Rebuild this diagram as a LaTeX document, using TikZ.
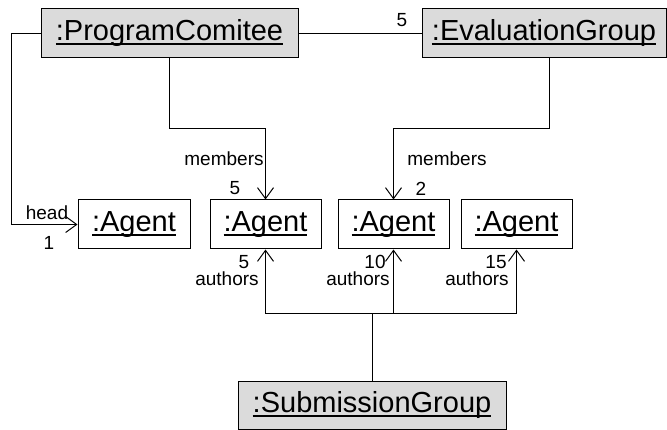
\documentclass[tikz,border=0pt]{standalone}
\usepackage{fontspec}
\setmainfont{Liberation Sans}
\usetikzlibrary{arrows.meta}
\newcommand{\objname}[1]{\setbox0\hbox{#1}\rlap{\rule[-4.5pt]{\wd0}{2.4pt}}\box0}

\begin{document}
\begin{tikzpicture}[x=1pt,y=-1pt,
        obj/.style={draw,line width=1pt,inner sep=0pt,minimum height=49pt,
            font=\fontsize{29}{30}\selectfont},
        grp/.style={obj,fill=black!14},
        lbl/.style={inner sep=0pt,font=\fontsize{19}{20}\selectfont},
        assoc/.style={line width=1pt,-{Straight Barb[length=11pt,width=16pt]}}]
            \useasboundingbox (0,0) rectangle (667,430);
            % objects
            \node[grp,minimum width=257pt] (pc) at (169.5,33.5) {\objname{:ProgramComitee}};
            \node[grp,minimum width=244pt] (eg) at (544,33.5) {\objname{:EvaluationGroup}};
            \node[obj,minimum width=112pt] (head) at (134,224.5) {\objname{:Agent}};
            \node[obj,minimum width=111pt] (pcm) at (265.5,224.5) {\objname{:Agent}};
            \node[obj,minimum width=111pt] (egm) at (393.5,224.5) {\objname{:Agent}};
            \node[obj,minimum width=111pt] (auth) at (516.5,224.5) {\objname{:Agent}};
            \node[grp,minimum width=268pt,minimum height=47pt] (sg) at (372,405.5) {\objname{:SubmissionGroup}};
            % links
            \draw[line width=1pt] (pc.east) -- (eg.west);
            \draw[assoc] (pc.west) -- ++(-29,0) |- (head.west);
            \draw[assoc] (pc.south) -- ++(0,70) -| (pcm.north);
            \draw[assoc] ([xshift=5pt]eg.south) -- ++(0,70) -| (egm.north);
            \coordinate (bus) at (372,314);
            \draw[line width=1pt] (sg.north) -- (bus);
            \draw[assoc] (bus) -| (pcm.south);
            \draw[assoc] (bus) -| (egm.south);
            \draw[assoc] (bus) -| (auth.south);
            % roles and multiplicities
            \node[lbl] (egmult) at (402,20) {5};
            \node[lbl] (headrole) at (47,213) {head};
            \node[lbl] (headmult) at (49,243) {1};
            \node[lbl] (pcrole) at (224,159) {members};
            \node[lbl] (pcmult) at (235,188) {5};
            \node[lbl] (egrole) at (447,159) {members};
            \node[lbl] (egmult2) at (421,189) {2};
            \node[lbl] (amult1) at (244,262) {5};
            \node[lbl] (arole1) at (227,279) {authors};
            \node[lbl] (amult2) at (375,262) {10};
            \node[lbl] (arole2) at (358,279) {authors};
            \node[lbl] (amult3) at (496,262) {15};
            \node[lbl] (arole3) at (477,279) {authors};
        \end{tikzpicture}
\end{document}
